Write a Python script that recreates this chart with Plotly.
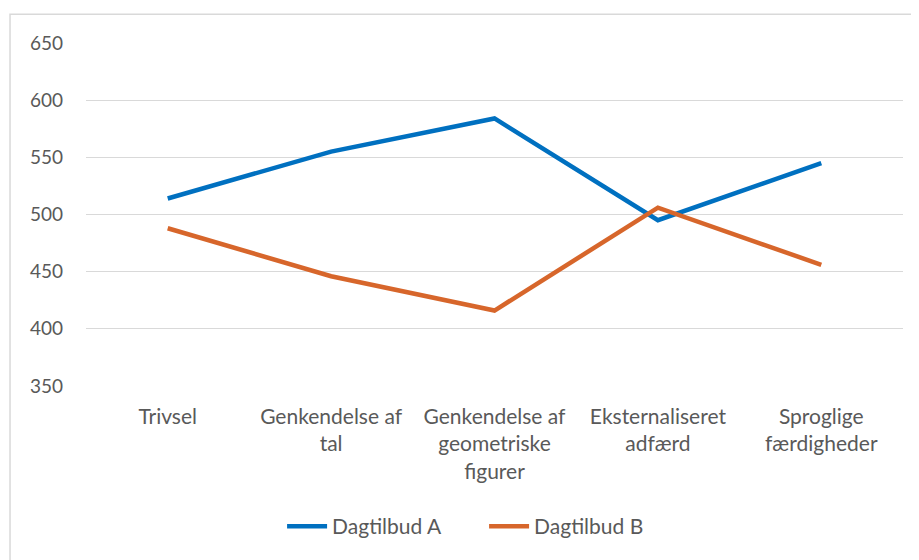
import plotly.graph_objects as go

categories = ["Trivsel", "Genkendelse af<br>tal", "Genkendelse af<br>geometriske<br>figurer",
              "Eksternaliseret<br>adfærd", "Sproglige<br>færdigheder"]
dagtilbud_a = [514, 555, 584, 495, 545]
dagtilbud_b = [488, 446, 416, 506, 456]
y_ticks = [350, 400, 450, 500, 550, 600, 650]

FONT = "Lato"
TXT = "#595959"

fig = go.Figure()
fig.add_trace(go.Scatter(x=categories, y=dagtilbud_a, mode="lines", name="Dagtilbud A",
                         line=dict(color="#0070C0", width=4.5)))
fig.add_trace(go.Scatter(x=categories, y=dagtilbud_b, mode="lines", name="Dagtilbud B",
                         line=dict(color="#D7662B", width=4.5)))

fig.update_layout(
    width=919, height=560,
    margin=dict(l=78, r=24, t=35, b=182),
    paper_bgcolor="white", plot_bgcolor="white",
    font=dict(family=FONT, size=20, color=TXT),
    showlegend=True,
    legend=dict(orientation="h", x=0.24, xanchor="left", y=-0.41, yanchor="middle",
                font=dict(size=21, color=TXT), itemwidth=40, entrywidth=147, entrywidthmode="pixels"),
    xaxis=dict(showgrid=False, showline=False, zeroline=False, ticks="",
               tickfont=dict(size=21, color=TXT), range=[-0.5, 4.5], ticklabelstandoff=16),
    yaxis=dict(range=[350, 650], tickvals=y_ticks, showgrid=True, gridcolor="#D9D9D9",
               gridwidth=1.3, zeroline=False, showline=False, ticks="",
               tickfont=dict(size=19, color=TXT), ticklabelstandoff=22),
    shapes=[dict(type="rect", xref="paper", yref="paper", x0=-0.093, x1=1.2, y0=-0.6, y1=1.084,
                 line=dict(color="#D9D9D9", width=1.5), layer="below")],
)

fig.write_html("out.html")
